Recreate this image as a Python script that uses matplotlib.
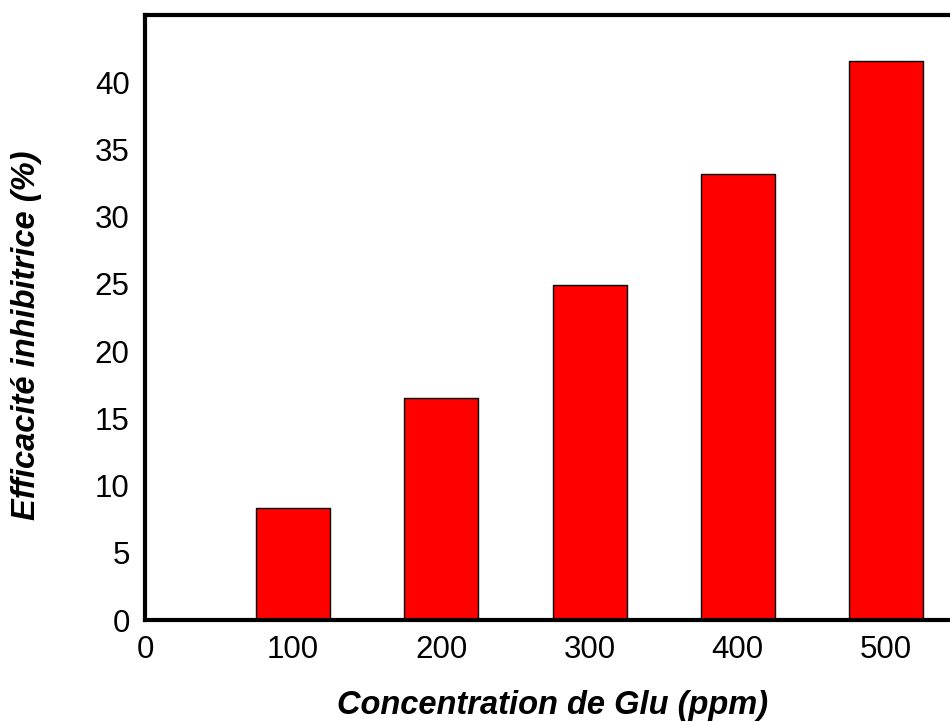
import matplotlib
matplotlib.use("Agg")
import matplotlib.pyplot as plt

# Inhibition efficiency vs. Glu concentration
concentrations = [100, 200, 300, 400, 500]
efficiency = [8.3, 16.5, 24.9, 33.2, 41.6]
x_ticks = [0, 100, 200, 300, 400, 500]
y_ticks = [0, 5, 10, 15, 20, 25, 30, 35, 40]

plt.rcParams["font.family"] = ["Liberation Sans", "DejaVu Sans"]

fig = plt.figure(figsize=(9.5, 7.22), dpi=100)
ax = fig.add_axes([145 / 950, 102 / 722, 815 / 950, 605 / 722])

ax.bar(concentrations, efficiency, width=50, color="#ff0000",
       edgecolor="black", linewidth=1.0, zorder=2)

ax.set_xlim(0, 550)
ax.set_ylim(0, 45)
ax.set_xticks(x_ticks)
ax.set_yticks(y_ticks)
ax.tick_params(axis="both", length=0, labelsize=22.5, pad=11)

for side in ("left", "bottom", "top", "right"):
    ax.spines[side].set_linewidth(3.0)

ax.set_xlabel("Concentration de Glu (ppm)", fontsize=23.5, fontweight="bold",
              fontstyle="italic", labelpad=18)
ax.set_ylabel("Efficacité inhibitrice (%)", fontsize=23.5, fontweight="bold",
              fontstyle="italic")
ax.yaxis.set_label_coords(-103 / 815, 0.471)

fig.savefig("out.png", dpi=100)
